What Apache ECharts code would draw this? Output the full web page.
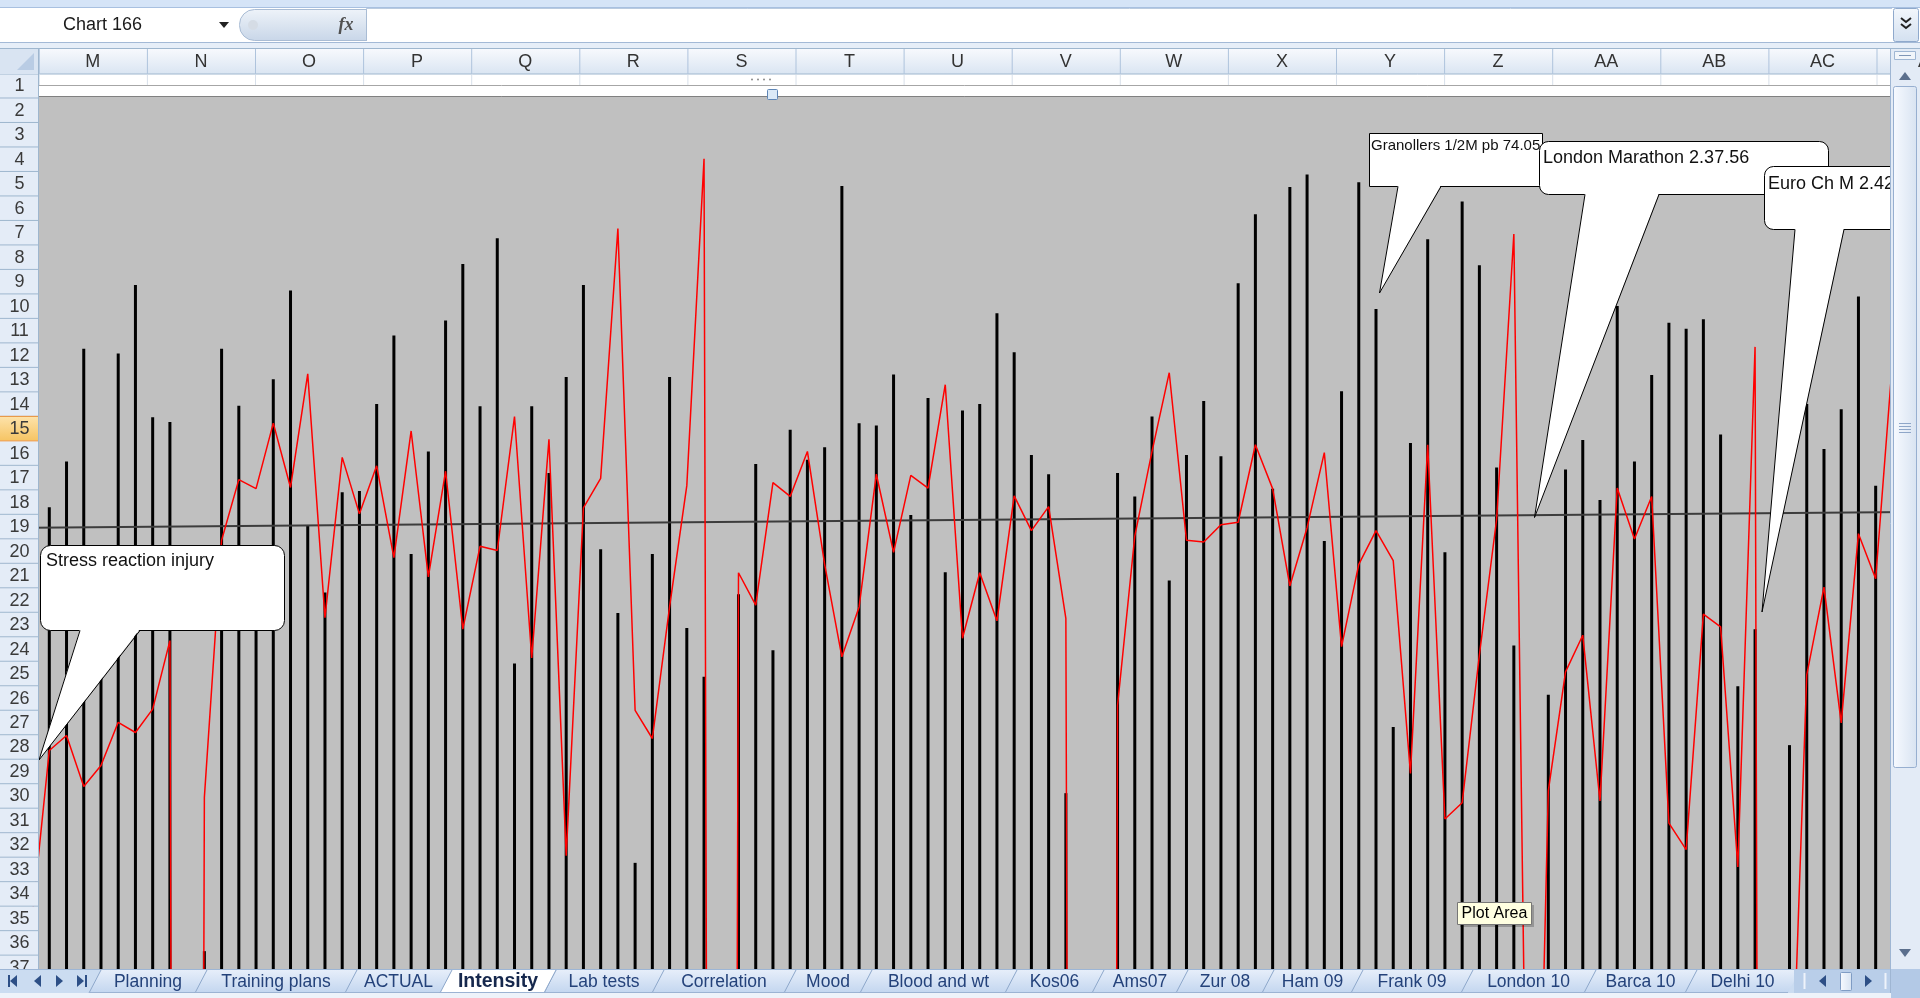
<!DOCTYPE html>
<html>
<head>
<meta charset="utf-8">
<title>Intensity</title>
<script src="https://cdn.jsdelivr.net/npm/echarts@6/dist/echarts.min.js"></script>
<style>
  html, body { margin: 0; padding: 0; overflow: hidden; background: #fff; }
  #main { width: 1920px; height: 998px; }
</style>
</head>
<body>
<div id="main"></div>
<script>
// ---- data -------------------------------------------------------------
// one category per training week; the first one sits just left of column M
const weeks = Array.from({ length: 110 }, (_, i) => 'Wk ' + (i + 1));

// weekly training load (black bars)
const volume = [null,
  93.17, 93.93, 95.81, 91.78, 95.73, 96.87, 94.67, 94.59, 0, 85.78,
  95.81, 94.86, 91.62, 95.30, 96.78, 92.86, 91.75, 93.42, 93.44, 94.89,
  96.03, 92.39, 94.10, 96.28, 97.22, 94.85, 97.65, 90.57, 94.85, 93.74,
  95.34, 96.87, 92.47, 91.41, 87.25, 92.39, 95.34, 91.16, 90.35, 0,
  91.72, 93.89, 90.79, 94.46, 93.96, 94.17, 98.52, 94.57, 94.53, 95.38,
  93.04, 94.99, 92.09, 94.78, 94.89, 96.40, 95.75, 94.04, 93.72, 88.41,
  0, 0, 93.74, 93.35, 94.68, 91.95, 94.04, 94.94, 94.02, 96.90,
  98.05, 93.48, 98.50, 98.71, 92.61, 95.10, 98.58, 96.47, 89.51, 94.24,
  97.63, 92.42, 98.26, 97.20, 93.83, 90.87, 0, 90.05, 93.80, 94.29,
  93.29, 96.52, 93.93, 95.37, 96.24, 96.14, 96.30, 94.38, 90.19, 91.14,
  0, 89.21, 94.89, 94.14, 94.80, 96.68, 93.53,
  null, null];

// weekly intensity (red line)
const intensity = [86.33,
  89.12, 89.37, 88.52, 88.87, 89.59, 89.42, 89.81, 90.95, 0, 88.34,
  92.62, 93.63, 93.48, 94.57, 93.50, 95.39, 91.33, 94.00, 93.06, 93.86,
  92.33, 94.44, 92.01, 93.77, 91.14, 92.52, 92.45, 94.68, 90.66, 94.30,
  87.37, 93.16, 93.65, 97.81, 89.79, 89.32, 91.51, 93.53, 98.97, 0,
  92.08, 91.54, 93.58, 93.35, 94.10, 92.22, 90.68, 91.51, 93.72, 92.42,
  93.70, 93.49, 95.21, 90.99, 92.08, 91.28, 93.36, 92.78, 93.18, 91.32,
  0, 0, 89.87, 92.69, 94.10, 95.41, 92.62, 92.59, 92.88, 92.92,
  94.21, 93.48, 91.86, 92.83, 94.08, 90.85, 92.22, 92.78, 92.28, 88.74,
  94.21, 87.98, 88.25, 90.71, 92.97, 97.72, 76.45, 88.45, 90.43, 91.04,
  88.28, 93.49, 92.64, 93.35, 87.91, 87.47, 91.39, 91.18, 87.18, 95.84,
  0, 82.10, 90.38, 91.84, 89.58, 92.73, 91.98, 95.70,
  null];

// linear trend line, value at the first and last week
const trendEnds = [92.83, 93.09];

// visible slice of the value scale
const valueMin = 85, valueMax = 100;

// race notes
const notes = ['Stress reaction injury', 'Granollers 1/2M pb 74.05', 'London Marathon 2.37.56', 'Euro Ch M 2.42'];

// sheet furniture
const colLetters = ['M', 'N', 'O', 'P', 'Q', 'R', 'S', 'T', 'U', 'V', 'W', 'X', 'Y', 'Z', 'AA', 'AB', 'AC', 'AD'];
const sheetTabs = ['Planning', 'Training plans', 'ACTUAL', 'Intensity', 'Lab tests', 'Correlation', 'Mood',
  'Blood and wt', 'Kos06', 'Ams07', 'Zur 08', 'Ham 09', 'Frank 09', 'London 10', 'Barca 10', 'Delhi 10'];
const activeSheet = 'Intensity';
const activeRow = 15;
const nameBox = 'Chart 166';

// ---- drawing helpers --------------------------------------------------
const FONT = '"Liberation Sans", Arial, sans-serif';
const els = [];
const R = (x, y, w, h, fill, stroke, z, r) => els.push({ type: 'rect', silent: true, z: z,
  shape: { x, y, width: w, height: h, r: r || 0 }, style: { fill: fill, stroke: stroke || null, lineWidth: 1 } });
const L = (x1, y1, x2, y2, stroke, z, lw) => els.push({ type: 'line', silent: true, z: z,
  shape: { x1, y1, x2, y2 }, style: { stroke: stroke, lineWidth: lw || 1 } });
const P = (points, fill, stroke, z) => els.push({ type: 'polygon', silent: true, z: z,
  shape: { points }, style: { fill: fill, stroke: stroke || null, lineWidth: 1 } });
const PL = (points, stroke, z, lw) => els.push({ type: 'polyline', silent: true, z: z,
  shape: { points }, style: { stroke: stroke, fill: null, lineWidth: lw || 1 } });
const C = (cx, cy, r, fill, z) => els.push({ type: 'circle', silent: true, z: z, shape: { cx, cy, r }, style: { fill } });
const T = (x, y, text, opt, z) => {
  const s = Object.assign({ text: text, fill: '#333', fontSize: 17, fontFamily: FONT,
    textAlign: 'center', textVerticalAlign: 'middle' }, opt || {});
  s.align = s.textAlign; s.verticalAlign = s.textVerticalAlign;
  els.push({ type: 'text', silent: true, z: z, x: x, y: y, style: s });
};
const grad = (c1, c2, horiz) => ({ type: 'linear', x: 0, y: 0, x2: horiz ? 1 : 0, y2: horiz ? 0 : 1,
  colorStops: [{ offset: 0, color: c1 }, { offset: 1, color: c2 }] });

// ---- plot area and chart frame ---------------------------------------
R(38.5, 96, 1881.5, 902, '#c0c0c0', null, 0);
R(38.5, 85, 1881.5, 11, '#ffffff', null, 1);
L(38.5, 85.5, 1890, 85.5, '#a6a6a6', 1);
L(38.5, 96.5, 1890, 96.5, '#808080', 1);

// ---- callouts ---------------------------------------------------------
function callout(box, base, tip, text, textPos, fontSize, z) {
  R(box[0], box[1], box[2], box[3], '#ffffff', '#000000', z, box[4]);
  const yb = box[1] + box[3];
  P([[base[0], yb - 1.5], [base[1], yb - 1.5], tip], '#ffffff', null, z + 0.1);
  PL([[base[0], yb], tip, [base[1], yb]], '#000000', z + 0.2, 1);
  T(textPos[0], textPos[1], text, { textAlign: 'left', fill: '#111', fontSize: fontSize }, z + 0.3);
}
callout([40.5, 545.5, 244, 85, 10], [80, 140], [39, 760], notes[0], [46, 561], 18, 20);
callout([1369.5, 133.5, 173, 53, 0], [1398, 1441], [1379.5, 293], notes[1], [1371, 146], 15, 21);
callout([1539.5, 141.5, 289, 53, 9], [1585, 1659], [1534.5, 517.5], notes[2], [1543, 158], 18, 22);
callout([1764.5, 166.5, 200, 63, 9], [1795, 1844], [1762, 612], notes[3], [1768, 184], 18, 23);

// hover tip
R(1460, 905, 74, 22, 'rgba(0,0,0,0.22)', null, 25);
R(1457.5, 902.5, 74, 22, '#ffffe1', '#767676', 26);
T(1494.5, 914, 'Plot Area', { fill: '#000', fontSize: 16 }, 27);

// chart resize handle
[752, 758, 764, 770].forEach(x => C(x, 79.5, 1, '#8a8a8a', 31));
R(767.5, 89.5, 10, 10, '#dbe9f7', '#5f86b6', 31, 1);

// ---- formula bar ------------------------------------------------------
R(0, 0, 1920, 8, '#d5e4f7', null, 40);
L(0, 7.5, 1920, 7.5, '#a8c0e0', 40);
R(0, 8, 1920, 34, '#ffffff', null, 40);
T(63, 25, nameBox, { textAlign: 'left', fill: '#1a1a1a', fontSize: 18 }, 41);
P([[219, 22], [229, 22], [224, 28]], '#222', null, 41);
R(239.5, 9.5, 127, 31, grad('#eef3f9', '#c8d6e8'), '#a9bcd4', 41, [15, 0, 0, 15]);
C(253, 25, 5, '#d5dce5', 42);
T(346, 25, 'fx', { fill: '#505050', fontSize: 18, fontStyle: 'italic', fontWeight: 'bold', fontFamily: '"Liberation Serif", "DejaVu Serif", serif' }, 42);
L(366.5, 8.5, 1892, 8.5, '#b9cadf', 41);
L(366.5, 8.5, 366.5, 41, '#a9bcd4', 41);
R(1893.5, 8.5, 25, 33, grad('#f3f7fc', '#d3e0f0'), '#8fa9cc', 41, 2);
PL([[1901, 18], [1906, 22], [1911, 18]], '#222', 42, 2);
PL([[1901, 24], [1906, 28], [1911, 24]], '#222', 42, 2);
R(0, 42, 1920, 7, '#e6eef8', null, 40);
L(0, 42.5, 1920, 42.5, '#a3b9d6', 40);
L(0, 48.5, 1920, 48.5, '#9eb6ce', 40);

// ---- column headers and row 1 ----------------------------------------
R(38.5, 49, 1851.5, 25, grad('#f7f9fd', '#dae5f2'), null, 40);
L(0, 74, 1890, 74, '#9eb6ce', 41);
R(38.5, 74.5, 1851.5, 10.5, '#ffffff', null, 30);
colLetters.forEach((c, k) => {
  const x0 = 38.8 + 108.1 * k;
  L(x0 + 0.5, 49, x0 + 0.5, 74, '#aec3dc', 41);
  L(x0 + 0.5, 75, x0 + 0.5, 85, '#d8e0ea', 31);
  T(x0 + 54, 62, c, { fill: '#333', fontSize: 18 }, 42);
});
R(0, 49, 38.5, 25, '#d9e4f2', null, 41);
P([[34, 53], [34, 70], [17, 70]], '#b9cce4', null, 42);

// ---- row headers ------------------------------------------------------
for (let n = 1; n <= 37; n++) {
  const y0 = 73.5 + 24.49 * (n - 1);
  const on = n === activeRow;
  R(0, y0, 38.5, 24.49, on ? grad('#fde3ab', '#f6c463') : '#e4ecf7', null, 40);
  L(0, y0 + 24.49, 38.5, y0 + 24.49, on ? '#f29536' : '#9eb6ce', 41);
  if (on) L(0, y0, 38.5, y0, '#f29536', 41);
  T(19.5, y0 + 12.8, String(n), { fill: '#3a3a3a', fontSize: 18 }, 42);
}
L(38.5, 49, 38.5, 969, '#9eb6ce', 42);

// ---- vertical scroll bar ---------------------------------------------
R(1890, 49, 30, 920, '#e3ebf6', null, 40);
L(1890.5, 49, 1890.5, 998, '#9fb6d3', 41);
R(1894.5, 51.5, 21, 8, '#f1f5fa', '#9fb6d3', 41);
L(1899, 55.5, 1911, 55.5, '#7f96b6', 42);
P([[1899, 80], [1911, 80], [1905, 72]], '#5b6f8d', null, 42);
R(1893.5, 86.5, 23, 681, grad('#f7faff', '#d8e3f1', true), '#97afd0', 41, 2);
[423, 426, 429, 432].forEach(y => L(1899, y + 0.5, 1911, y + 0.5, '#8ea6c8', 42));
P([[1899, 949], [1911, 949], [1905, 957]], '#5b6f8d', null, 42);

// ---- sheet tabs -------------------------------------------------------
const tabEdges = [95, 201, 351, 446, 550, 658, 790, 866, 1011, 1098, 1182, 1268, 1357, 1467, 1590, 1691, 1794];
R(0, 969, 1890, 24, '#cbdcf1', null, 45);
R(0, 993, 1920, 5, '#eef3fa', null, 45);
L(0, 969.5, 1890, 969.5, '#9db6d6', 46);
// navigation buttons
const navY = 981;
P([[10, navY], [17, navY - 6], [17, navY + 6]], '#2d4f86', null, 46); L(9, navY - 6, 9, navY + 6, '#2d4f86', 46, 2);
P([[34, navY], [41, navY - 6], [41, navY + 6]], '#2d4f86', null, 46);
P([[63, navY], [56, navY - 6], [56, navY + 6]], '#2d4f86', null, 46);
P([[84, navY], [77, navY - 6], [77, navY + 6]], '#2d4f86', null, 46); L(86, navY - 6, 86, navY + 6, '#2d4f86', 46, 2);
sheetTabs.forEach((name, k) => {
  const a = tabEdges[k], b = tabEdges[k + 1], s = 6;
  const on = name === activeSheet;
  P([[a - s, 993], [a + s, 970], [b + s, 970], [b - s, 993]], on ? '#ffffff' : grad('#e6eefa', '#c3d6ef'), null, on ? 48 : 46);
  PL([[a - s, 993], [a + s, 970]], '#8ea8cb', on ? 48.1 : 46.1);
  if (on) PL([[b - s, 993], [b + s, 970]], '#8ea8cb', 48.1);
  L(a - s, 992.5, b - s, 992.5, '#9cb3d3', on ? 48.1 : 46.1);
  T((a + b) / 2, 982, name, { fill: on ? '#16284d' : '#24427a', fontSize: on ? 19.5 : 17.5, fontWeight: on ? 'bold' : 'normal' }, on ? 48.2 : 46.2);
});
// horizontal scroll controls
R(1794, 969.5, 96, 23.5, '#b9cee9', null, 47);
L(1804.5, 973, 1804.5, 989, '#eef3fa', 48, 2);
P([[1819, 981], [1826, 975], [1826, 987]], '#2d4f86', null, 48);
R(1840.5, 972.5, 11, 18, grad('#f7faff', '#d6e2f1', true), '#7f9cc4', 48, 1);
P([[1872, 981], [1865, 975], [1865, 987]], '#2d4f86', null, 48);
L(1885.5, 973, 1885.5, 989, '#eef3fa', 48, 2);
R(1891, 969, 29, 29, '#b3c9e6', null, 47);

// ---- chart ------------------------------------------------------------
const chart = echarts.init(document.getElementById('main'), null, { renderer: 'canvas', width: 1920, height: 998 });
const trend = weeks.map((_, i) => (i === 0 ? trendEnds[0] : i === weeks.length - 1 ? trendEnds[1] : null));

chart.setOption({
  animation: false,
  backgroundColor: '#ffffff',
  grid: { left: 23.45, top: 97, width: 17.23 * weeks.length, bottom: 0, containLabel: false, outerBoundsMode: 'none', show: false },
  xAxis: { type: 'category', data: weeks, boundaryGap: true, show: false },
  yAxis: { type: 'value', min: valueMin, max: valueMax, show: false, splitLine: { show: false } },
  series: [
    { name: 'Volume', type: 'bar', data: volume, barWidth: 3, z: 2, clip: true,
      itemStyle: { color: '#000000' }, emphasis: { disabled: true } },
    { name: 'Linear (Volume)', type: 'line', data: trend, connectNulls: true, symbol: 'none', z: 3,
      lineStyle: { color: '#3c3c3c', width: 2 }, emphasis: { disabled: true } },
    { name: 'Intensity', type: 'line', data: intensity, symbol: 'none', z: 4, clip: true,
      lineStyle: { color: '#ff0000', width: 1.5 }, emphasis: { disabled: true } }
  ],
  graphic: { elements: els }
});
</script>
</body>
</html>
